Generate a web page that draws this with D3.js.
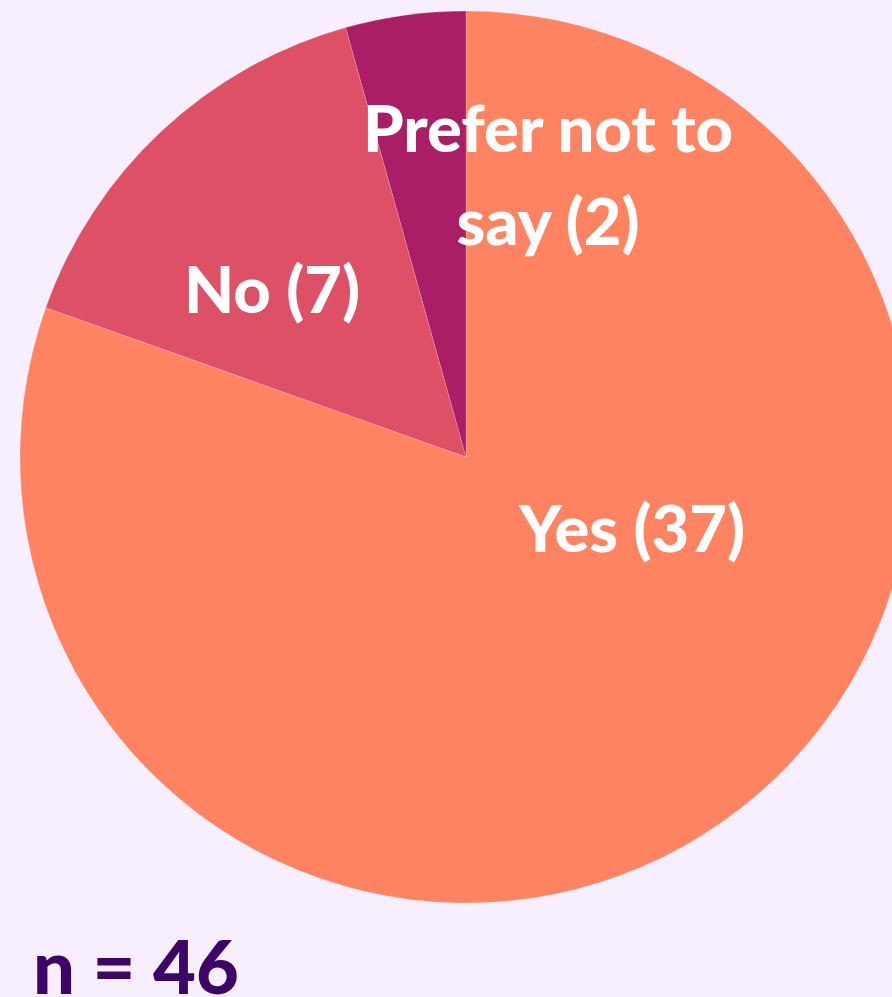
<!DOCTYPE html>
<html>
<head>
<meta charset="utf-8">
<script src="https://cdn.jsdelivr.net/npm/d3@7"></script>
<style>
  html, body { margin: 0; padding: 0; background: #F7EFFD; }
  svg { display: block; }
</style>
</head>
<body>
<svg id="chart" width="892" height="997"></svg>
<script>
// Survey answers, in drawing order (clockwise from 12 o'clock)
const categories = ["Yes", "No", "Prefer not to say"];
const counts = [37, 7, 2];
const colors = ["#FF8361", "#DE5066", "#AA1E65"];
// Label text lines per slice
const labelLines = [["Yes (37)"], ["No (7)"], ["Prefer not to", "say (2)"]];
const total = d3.sum(counts);

const W = 892, H = 997;
const cx = 466, cy = 457, radius = 446;
const fontFamily = "Lato, 'Open Sans', sans-serif";
const labelSize = 65;

// label anchors (centre x, first baseline y) per slice
const labelLayout = [
  { x: 632, y: 552, lead: 0 },
  { x: 272, y: 313, lead: 0 },
  { x: 548, y: 152, lead: 93 }
];

const svg = d3.select("#chart");
svg.append("rect").attr("width", W).attr("height", H).attr("fill", "#F7EFFD");

const data = categories.map((c, i) => ({ category: c, value: counts[i], color: colors[i] }));

const pie = d3.pie().value(d => d.value).sort(null);
const arc = d3.arc().innerRadius(0).outerRadius(radius);

const g = svg.append("g").attr("transform", `translate(${cx},${cy})`);
g.selectAll("path")
  .data(pie(data))
  .join("path")
  .attr("d", arc)
  .attr("fill", d => d.data.color)
  .attr("stroke", "#F7EFFD")
  .attr("stroke-opacity", 0.35)
  .attr("stroke-width", 0.6);

// slice labels
data.forEach((d, i) => {
  const L = labelLayout[i];
  const t = svg.append("text")
    .attr("x", L.x)
    .attr("y", L.y)
    .attr("text-anchor", "middle")
    .attr("font-family", fontFamily)
    .attr("font-weight", 900)
    .attr("font-size", labelSize)
    .attr("fill", "#FFFFFF");
  labelLines[i].forEach((line, j) => {
    t.append("tspan")
      .attr("x", L.x)
      .attr("y", L.y + j * L.lead)
      .text(line);
  });
});

// sample size note
svg.append("text")
  .attr("x", 33)
  .attr("y", 994)
  .attr("font-family", fontFamily)
  .attr("font-weight", 900)
  .attr("font-size", 74)
  .attr("fill", "#3C0566")
  .text(`n = ${total}`);
</script>
</body>
</html>
